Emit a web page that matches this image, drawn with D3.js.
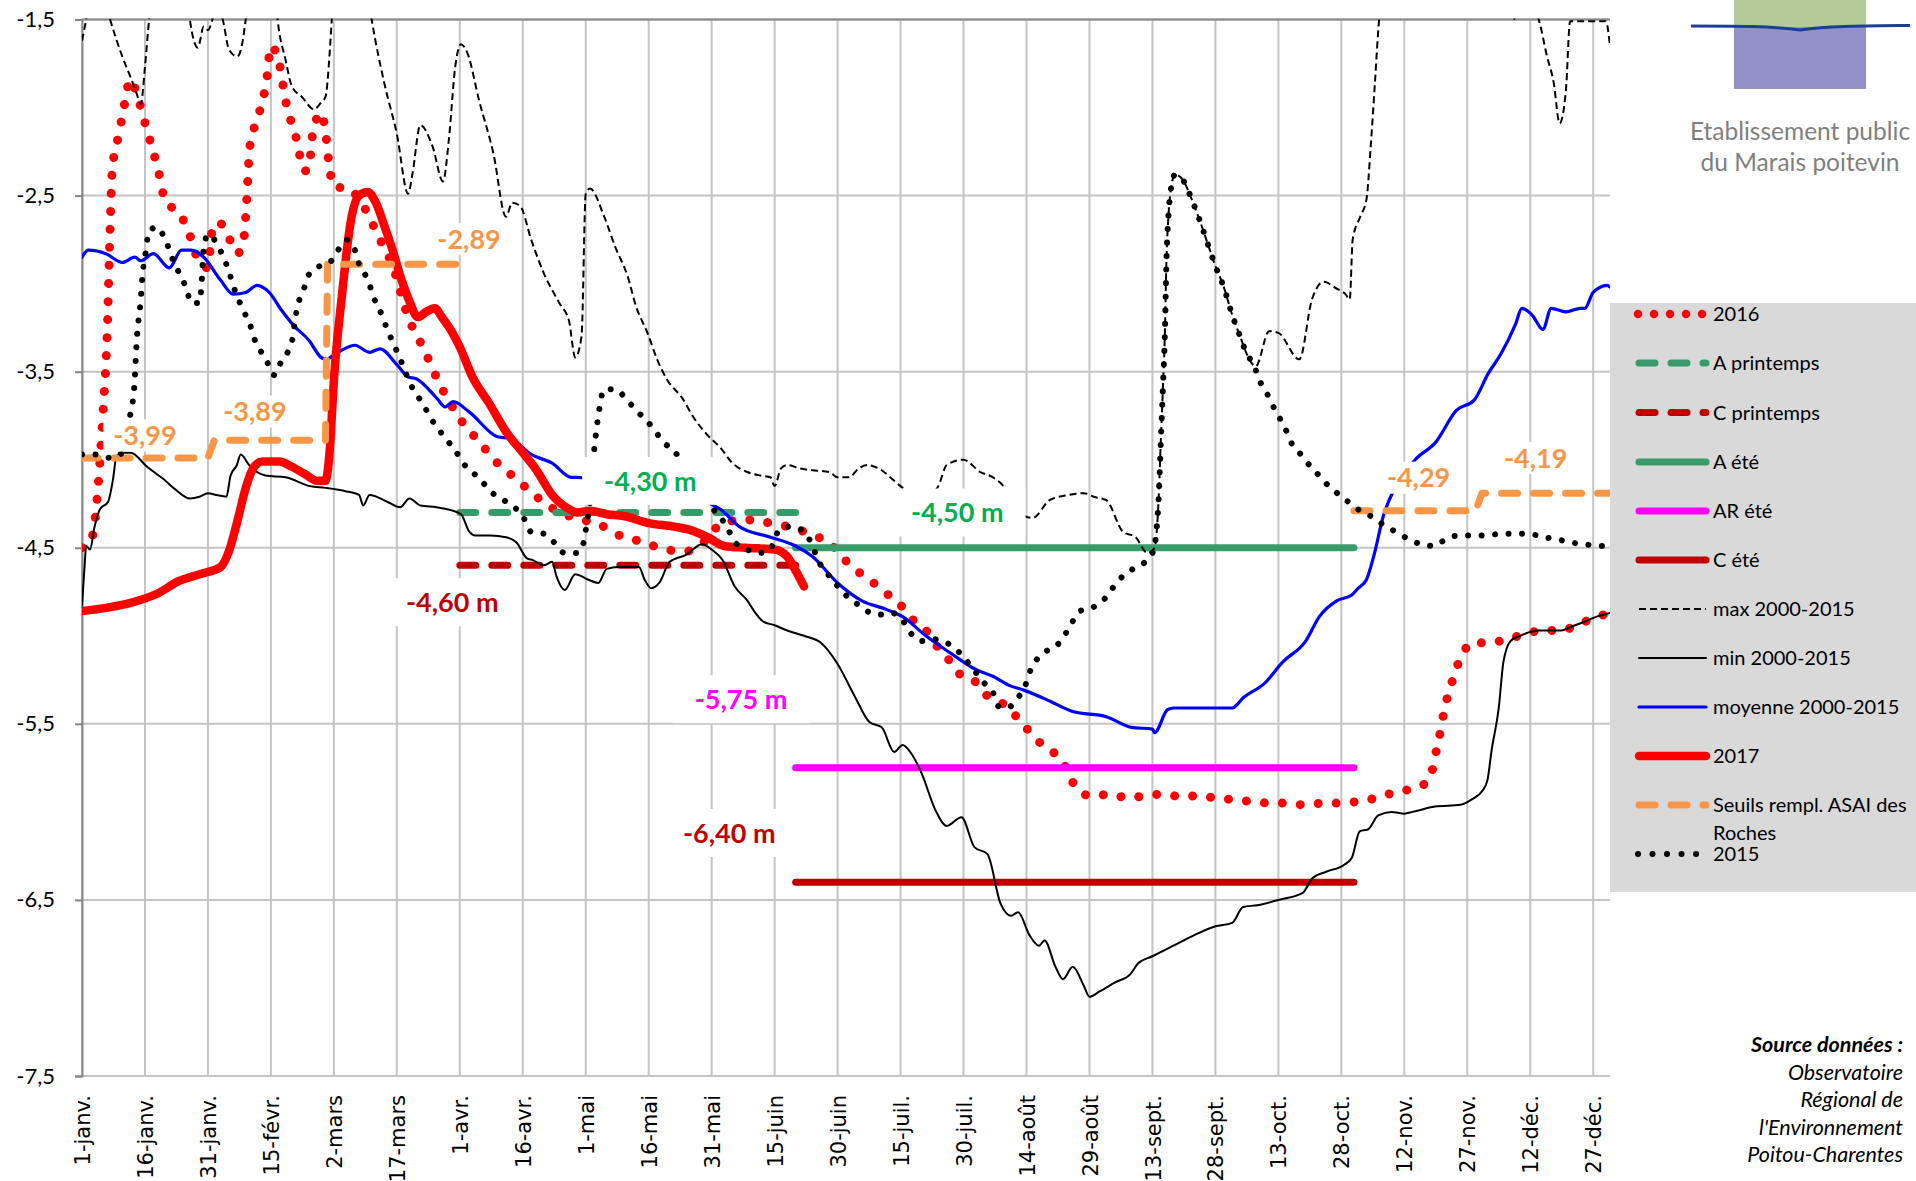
<!DOCTYPE html>
<html lang="fr">
<head>
<meta charset="utf-8">
<title>Niveaux de nappe - ASAI des Roches</title>
<script src="https://cdn.jsdelivr.net/npm/d3@7"></script>
<style>
  body { margin: 0; background: #fff; }
  svg { display: block; }
</style>
</head>
<body>
<div id="chart"></div>
<script>
// jour 0 = 1er janvier, niveaux en m

var dayTicks = [0, 15, 30, 45, 60, 75, 90, 105, 120, 135, 150, 165, 180, 195, 210, 225, 240, 255, 270, 285, 300, 315, 330, 345, 360];
var dayLabels = ["1-janv.", "16-janv.", "31-janv.", "15-févr.", "2-mars", "17-mars", "1-avr.", "16-avr.", "1-mai", "16-mai",
  "31-mai", "15-juin", "30-juin", "15-juil.", "30-juil.", "14-août", "29-août", "13-sept.", "28-sept.", "13-oct.",
  "28-oct.", "12-nov.", "27-nov.", "12-déc.", "27-déc."];
var levelTicks = [-7.5, -6.5, -5.5, -4.5, -3.5, -2.5, -1.5];

var serie2016 = [[0,-4.50],[2,-4.47],[3,-4.36],[4,-4.10],[5,-3.73],[6,-3.28],[6.7,-2.68],[7.2,-2.36],[8.7,-2.16],[9.6,-2.05],
  [11.6,-1.84],[13,-1.92],[15.5,-2.13],[18,-2.34],[20,-2.54],[22.8,-2.59],[25,-2.68],[28,-2.88],[30,-2.91],[31,-2.70],
  [32.5,-2.65],[35,-2.74],[37,-2.83],[38.5,-2.75],[39.2,-2.54],[40,-2.22],[42,-2.05],[44,-1.84],[45,-1.65],[47,-1.75],
  [48.5,-1.96],[51,-2.17],[53,-2.36],[54,-2.35],[55,-2.14],[57,-2.03],[58,-2.14],[59,-2.35],[60,-2.45],[63.6,-2.46],
  [66,-2.52],[71,-2.75],[74,-2.90],[77.7,-3.19],[81.6,-3.38],[85,-3.56],[89,-3.73],[92,-3.83],[94.8,-3.90],[97.7,-3.99],
  [101,-4.06],[104.4,-4.13],[107.8,-4.20],[111,-4.26],[115,-4.31],[119,-4.34],[123.5,-4.37],[127,-4.42],[131,-4.45],
  [135,-4.48],[139,-4.51],[143.7,-4.52],[147.7,-4.48],[150,-4.41],[153,-4.36],[157.5,-4.34],[161.6,-4.35],[166,-4.37],
  [170,-4.39],[174,-4.43],[178,-4.47],[181,-4.55],[184,-4.62],[187.6,-4.68],[191,-4.75],[194.5,-4.81],[197,-4.89],
  [200.8,-4.96],[203,-5.04],[206,-5.12],[208.6,-5.21],[212,-5.24],[214.6,-5.32],[218,-5.37],[221,-5.41],[223.5,-5.49],
  [226.5,-5.56],[229.5,-5.64],[233,-5.69],[235,-5.78],[237,-5.87],[240.5,-5.91],[245,-5.90],[249,-5.92],[253,-5.91],
  [257,-5.90],[261,-5.91],[265,-5.91],[270,-5.92],[274,-5.93],[278,-5.94],[283,-5.95],[287,-5.95],[291,-5.96],[296,-5.95],
  [300,-5.95],[304,-5.94],[308.5,-5.92],[312.5,-5.89],[316.5,-5.87],[320.5,-5.83],[322,-5.73],[322.8,-5.63],[323.8,-5.52],
  [324.6,-5.41],[325.8,-5.31],[327,-5.21],[328.6,-5.12],[331,-5.04],[335,-5.04],[339.4,-5.02],[343.7,-4.99],[348,-4.97],
  [352.4,-4.97],[356,-4.94],[360,-4.90],[364,-4.87]];

var serie2015 = [[0,-3.97],[3.4,-3.97],[6.7,-3.99],[9.6,-3.96],[11,-3.80],[11.6,-3.73],[12.5,-3.57],[13,-3.34],[14,-3.09],
  [14.5,-2.93],[15,-2.85],[16,-2.70],[18,-2.68],[19.8,-2.75],[21,-2.82],[22,-2.89],[23.7,-2.96],[25,-3.04],[26,-3.11],
  [28,-3.11],[28.4,-3.03],[29,-2.80],[30,-2.72],[32.5,-2.79],[33.7,-2.85],[35,-2.93],[36,-3.01],[38.6,-3.16],[40,-3.23],
  [41,-3.31],[42.5,-3.38],[44,-3.44],[45.8,-3.52],[47.5,-3.44],[50,-3.33],[51,-3.17],[51.8,-3.09],[53,-3.02],[54,-2.95],
  [56.7,-2.90],[59,-2.88],[61,-2.81],[63,-2.75],[65,-2.81],[66,-2.89],[67.7,-2.96],[69,-3.04],[70,-3.11],[71.5,-3.18],
  [72.7,-3.26],[74,-3.33],[75.3,-3.40],[76.7,-3.48],[78,-3.56],[79.5,-3.62],[81.6,-3.70],[83,-3.76],[85,-3.83],[87,-3.89],
  [89,-3.95],[90.8,-4.02],[93,-4.07],[95.5,-4.13],[97.8,-4.19],[100.5,-4.23],[103,-4.27],[105,-4.32],[107,-4.41],[110,-4.42],
  [112.5,-4.47],[115,-4.53],[118,-4.53],[119.5,-4.47],[120,-4.40],[121,-4.24],[122,-3.95],[123,-3.75],[124.4,-3.60],
  [127,-3.60],[129.8,-3.66],[132,-3.72],[134.6,-3.78],[136.6,-3.84],[138.5,-3.90],[141,-3.95],[144,-4.05],[147,-4.15],
  [150,-4.27],[152.5,-4.34],[154,-4.40],[155.6,-4.47],[158.4,-4.51],[161,-4.53],[164,-4.51],[165,-4.44],[167.8,-4.38],
  [170.6,-4.39],[173,-4.44],[174.5,-4.52],[176,-4.60],[178,-4.66],[182,-4.77],[184.7,-4.82],[187,-4.86],[190,-4.88],
  [193,-4.87],[195.7,-4.92],[197.6,-4.99],[200,-5.03],[203,-5.02],[206,-5.04],[208.8,-5.09],[211,-5.15],[213,-5.21],
  [215,-5.27],[217,-5.32],[218.3,-5.40],[220.5,-5.41],[222.6,-5.36],[224.6,-5.29],[225.7,-5.21],[227,-5.15],[229.5,-5.09],
  [232,-5.06],[234,-5.00],[235.7,-4.93],[237.7,-4.86],[240.7,-4.84],[243.6,-4.79],[245.5,-4.73],[248,-4.66],[250.4,-4.62],
  [253.3,-4.58],[255,-4.53],[255.8,-4.44],[256.5,-4.21],[257,-3.89],[257.5,-3.59],[258,-3.25],[258.3,-2.90],[258.8,-2.62],
  [259.3,-2.48],[260.4,-2.38],[262.5,-2.42],[264,-2.50],[265,-2.56],[266.4,-2.65],[268.4,-2.79],[270,-2.90],[272,-3.02],
  [273.9,-3.17],[276.2,-3.32],[277.3,-3.39],[279.3,-3.47],[280.3,-3.54],[282,-3.61],[283.4,-3.68],[285,-3.75],[286.6,-3.82],
  [288,-3.90],[290,-3.96],[292,-4.02],[294.3,-4.08],[296.6,-4.14],[299,-4.19],[301.7,-4.24],[304.5,-4.29],[307,-4.32],
  [310,-4.37],[313,-4.41],[316,-4.45],[319,-4.48],[322,-4.49],[325,-4.45],[328,-4.43],[331.4,-4.43],[334.7,-4.43],
  [338,-4.42],[341,-4.42],[344.6,-4.42],[348,-4.44],[351,-4.45],[354.6,-4.47],[358,-4.48],[361,-4.49],[364,-4.49]];

var serie2017 = [[0,-4.86],[6,-4.84],[12,-4.81],[18,-4.76],[23,-4.69],[28,-4.65],[33,-4.61],[35,-4.52],[37,-4.35],[39,-4.16],
  [41,-4.04],[43,-4.01],[47,-4.01],[50,-4.04],[53,-4.08],[56,-4.12],[58,-4.12],[59,-3.95],[60,-3.55],[62,-3.05],[64,-2.65],
  [66,-2.50],[68,-2.48],[70,-2.54],[72,-2.67],[74,-2.81],[76,-2.97],[78,-3.10],[80,-3.19],[82,-3.16],[84,-3.14],[86,-3.20],
  [88,-3.27],[90,-3.36],[93,-3.53],[97,-3.68],[101,-3.84],[105,-3.96],[108,-4.05],[112,-4.20],[116,-4.28],[118,-4.30],
  [121,-4.29],[125,-4.31],[129,-4.32],[135,-4.36],[141,-4.38],[145,-4.40],[149,-4.44],[153,-4.49],[158,-4.50],[165,-4.51],
  [168,-4.55],[170,-4.63],[172,-4.72]];

var moyenne = [[0,-2.85],[1.5,-2.81],[5.7,-2.83],[9.6,-2.88],[12.6,-2.85],[14,-2.87],[17,-2.83],[20.8,-2.91],[23.7,-2.81],
  [26,-2.81],[29,-2.85],[33,-2.98],[36,-3.06],[39,-3.05],[41.7,-3.01],[44.6,-3.05],[47.5,-3.15],[50.5,-3.24],[54,-3.32],
  [57,-3.42],[58,-3.43],[61,-3.39],[65,-3.35],[68.5,-3.39],[71,-3.37],[75,-3.46],[77.7,-3.53],[79.6,-3.54],[84.5,-3.65],
  [86.5,-3.70],[88.4,-3.67],[92.3,-3.73],[99,-3.87],[102,-3.88],[107,-3.97],[112,-4.02],[116.6,-4.10],[118,-4.10],
  [125,-4.13],[135,-4.18],[142,-4.21],[148.7,-4.24],[152,-4.28],[156.6,-4.38],[164,-4.44],[170,-4.49],[174,-4.55],
  [180,-4.70],[185.7,-4.80],[191.6,-4.85],[195.4,-4.89],[201,-5.00],[207,-5.10],[212.8,-5.19],[217,-5.23],[220.7,-5.28],
  [224.5,-5.31],[230.5,-5.37],[236,-5.43],[244,-5.46],[250,-5.52],[255,-5.53],[255.5,-5.55],[258.6,-5.42],[260,-5.41],
  [269,-5.41],[274,-5.41],[276.7,-5.35],[281.7,-5.27],[286,-5.15],[291.5,-5.03],[294.8,-4.89],[299,-4.80],[302.4,-4.77],
  [304,-4.73],[306,-4.68],[307.8,-4.54],[310,-4.32],[313,-4.15],[317.6,-4.00],[322.5,-3.90],[327.4,-3.72],[331.7,-3.66],
  [335,-3.51],[338,-3.40],[341.5,-3.23],[343,-3.14],[345.5,-3.18],[348,-3.26],[350,-3.14],[353.5,-3.16],[357,-3.14],
  [358,-3.14],[360,-3.05],[363.3,-3.01],[364,-3.02]];

var maximum = [[0,-1.62],[1,-1.50],[2,-1.35],[5,-1.35],[6.7,-1.50],[9.6,-1.71],[11.6,-1.83],[13,-1.92],[14,-1.98],[15,-1.77],
  [16,-1.50],[17,-1.35],[25,-1.35],[25.7,-1.50],[27.6,-1.66],[29,-1.54],[30,-1.56],[32,-1.45],[33.5,-1.50],[35,-1.67],
  [37,-1.71],[38.3,-1.62],[39,-1.50],[40,-1.35],[46,-1.35],[46.6,-1.50],[48.5,-1.73],[50,-1.88],[52.4,-1.94],[55.3,-2.01],
  [57,-1.97],[58,-1.94],[59,-1.69],[59.5,-1.50],[60,-1.35],[68,-1.35],[69,-1.50],[72,-1.86],[75,-2.15],[77.7,-2.49],
  [78.7,-2.38],[80.6,-2.10],[83.5,-2.22],[86,-2.42],[87.4,-2.18],[88.9,-1.77],[90.3,-1.64],[91.8,-1.69],[94.6,-1.96],
  [98,-2.26],[101,-2.62],[102.5,-2.54],[104.4,-2.56],[107,-2.75],[110,-2.94],[113.7,-3.11],[116,-3.21],[117.5,-3.42],
  [119,-3.30],[120,-2.49],[121,-2.46],[124.4,-2.62],[127,-2.79],[130,-2.96],[132,-3.13],[134.7,-3.28],[137,-3.43],
  [139.5,-3.55],[143,-3.65],[145.7,-3.76],[149,-3.86],[152,-3.93],[155,-4.02],[158.5,-4.07],[161.6,-4.09],[164,-4.10],
  [165,-4.15],[166.5,-4.05],[168,-4.03],[171,-4.05],[174,-4.06],[178,-4.07],[180,-4.10],[182.7,-4.10],[185,-4.05],
  [187,-4.03],[190.5,-4.06],[193,-4.11],[195,-4.15],[199,-4.22],[202,-4.20],[204,-4.15],[206,-4.03],[210,-4.00],
  [214,-4.07],[217,-4.10],[219.5,-4.15],[223,-4.30],[226.5,-4.33],[230.5,-4.23],[235,-4.20],[238.7,-4.19],[241,-4.21],
  [244,-4.23],[248,-4.41],[251,-4.44],[253.8,-4.53],[255.5,-4.50],[256.5,-4.21],[257,-3.89],[257.5,-3.59],[258,-3.25],
  [258.3,-2.90],[258.8,-2.62],[259.3,-2.48],[260.4,-2.38],[262.5,-2.42],[264,-2.50],[265,-2.56],[266.4,-2.65],[268.4,-2.79],
  [270,-2.90],[272,-3.02],[273.9,-3.17],[276.2,-3.32],[277.3,-3.39],[279.6,-3.47],[282.8,-3.27],[285,-3.28],[290,-3.43],
  [293,-3.09],[295.8,-2.99],[299,-3.03],[301,-3.06],[302,-3.09],[302.7,-2.75],[304.5,-2.62],[306,-2.52],[307,-2.22],
  [308,-1.86],[309,-1.50],[310,-1.35],[340,-1.35],[341,-1.50],[342,-1.45],[346,-1.45],[347,-1.50],[349,-1.71],[350.6,-1.86],
  [352,-2.09],[353.5,-1.90],[354.5,-1.51],[363,-1.51],[364,-1.65]];

var minimum = [[0,-4.83],[0.6,-4.61],[1,-4.49],[1.9,-4.51],[3,-4.38],[4.3,-4.28],[6.2,-4.24],[7.4,-4.11],[8.2,-3.98],
  [9.6,-3.96],[11.6,-3.96],[15.5,-4.04],[19.4,-4.11],[22.3,-4.17],[25.7,-4.22],[28,-4.21],[30,-4.19],[32,-4.20],[34.4,-4.21],
  [35.4,-4.09],[36.9,-4.03],[37.8,-3.97],[39.8,-4.03],[41.7,-4.07],[43.7,-4.09],[48.5,-4.10],[54.3,-4.15],[58,-4.16],
  [63,-4.18],[66,-4.20],[67,-4.26],[68.5,-4.20],[72.8,-4.24],[75.8,-4.27],[78,-4.22],[80.6,-4.26],[84.5,-4.27],[88.4,-4.29],
  [90.3,-4.31],[92.3,-4.41],[93.7,-4.43],[97.2,-4.43],[101,-4.44],[103.5,-4.47],[106,-4.56],[107.4,-4.57],[110,-4.60],
  [112,-4.58],[113,-4.66],[115,-4.74],[117.5,-4.65],[120.5,-4.68],[123,-4.70],[125,-4.62],[127.8,-4.61],[130.7,-4.61],
  [132.7,-4.61],[134,-4.68],[135.6,-4.73],[137.5,-4.70],[140,-4.58],[143.9,-4.54],[147.7,-4.48],[150,-4.51],[152.6,-4.57],
  [155.5,-4.72],[158.5,-4.80],[160.4,-4.87],[162.3,-4.92],[165,-4.94],[168,-4.97],[172,-5.00],[176,-5.04],[180,-5.16],
  [184,-5.34],[187.6,-5.49],[190.5,-5.52],[193.5,-5.66],[195.5,-5.62],[197.3,-5.66],[200,-5.78],[203.3,-5.99],[206,-6.08],
  [209.5,-6.03],[212.6,-6.20],[215.7,-6.24],[218.8,-6.52],[221.3,-6.59],[223,-6.57],[225.7,-6.70],[228,-6.76],[229.3,-6.73],
  [231.9,-6.88],[233.7,-6.95],[236,-6.88],[238.7,-6.99],[240,-7.05],[242.4,-7.02],[246,-6.97],[249.8,-6.92],[251.6,-6.86],
  [255,-6.82],[260,-6.76],[265,-6.70],[270,-6.65],[274,-6.63],[276.6,-6.54],[280,-6.53],[285,-6.50],[290.8,-6.46],
  [293,-6.38],[296.4,-6.34],[300.7,-6.30],[302.5,-6.26],[304.4,-6.11],[306.3,-6.10],[308.8,-6.02],[312,-6.00],[315,-6.01],
  [317,-6.00],[322.3,-5.97],[328.4,-5.96],[331,-5.93],[333.6,-5.88],[334.8,-5.82],[335.8,-5.65],[337.5,-5.41],[338.6,-5.15],
  [340.3,-5.03],[342.6,-5.00],[347,-4.97],[352.4,-4.97],[354.6,-4.95],[357.9,-4.92],[361,-4.89],[364,-4.87]];

// seuils de remplissage ASAI des Roches (deux périodes)
var seuilsHiver = [[0,-3.99],[30,-3.99],[31.5,-3.89],[58,-3.89],[58.5,-2.89],[89,-2.89]];
var seuilsAutomne = [[303,-4.29],[332,-4.29],[333.5,-4.19],[364,-4.19]];

// seuils de gestion : nom, valeur, jour début, jour fin
var thresholdNames = ["A printemps", "C printemps", "A été", "AR été", "C été"];
var thresholdValues = [-4.30, -4.60, -4.50, -5.75, -6.40];
var thresholdStart = [90, 90, 170, 170, 170];
var thresholdEnd = [170, 170, 303, 303, 303];

// étiquettes de valeur
var labelTexts = ["-3,99", "-3,89", "-2,89", "-4,29", "-4,19", "-4,30 m", "-4,50 m", "-4,60 m", "-5,75 m", "-6,40 m"];
var labelDays = [15, 41.2, 92.2, 318.4, 346.3, 135.4, 208.5, 88.2, 157, 154.2];
var labelValues = [-3.863, -3.727, -2.746, -4.102, -3.99, -4.12, -4.30, -4.81, -5.36, -6.12];
var labelKinds = ["Seuils", "Seuils", "Seuils", "Seuils", "Seuils", "A printemps", "A été", "C printemps", "AR été", "C été"];

var legendNames = ["2016", "A printemps", "C printemps", "A été", "AR été", "C été", "max 2000-2015",
  "min 2000-2015", "moyenne 2000-2015", "2017", "Seuils rempl. ASAI des|Roches", "2015"];

var sourceLines = ["Source données :", "Observatoire", "Régional de", "l'Environnement", "Poitou-Charentes"];

// ---- styles ----
var green = "#389b69", darkRed = "#c00000", orange = "#f79646";
var styles = {
  "2016": {color: "#ff0000", width: 9, dash: "0.01 18"},
  "A printemps": {color: green, width: 7, dash: "16 16"},
  "C printemps": {color: darkRed, width: 7, dash: "16 16"},
  "A été": {color: green, width: 7},
  "AR été": {color: "#ff00ff", width: 7},
  "C été": {color: darkRed, width: 7},
  "max 2000-2015": {color: "#000", width: 2, dash: "7 4", cap: "butt"},
  "min 2000-2015": {color: "#000", width: 2},
  "moyenne 2000-2015": {color: "#0000ff", width: 3.2},
  "2017": {color: "#ff0000", width: 8.5},
  "Seuils rempl. ASAI des|Roches": {color: orange, width: 7, dash: "16 16"},
  "2015": {color: "#000", width: 6, dash: "0.01 13.5"}
};
var labelColors = {"Seuils": orange, "A printemps": "#00b050", "A été": "#00b050", "C printemps": darkRed,
  "AR été": "#ff00ff", "C été": darkRed};

var width = 1916, height = 1181;
var plot = {left: 82, right: 1610, top: 19.5, bottom: 1076};

var x = d3.scaleLinear().domain([0, 364]).range([plot.left, plot.right]);
var y = d3.scaleLinear().domain([-7.5, -1.5]).range([plot.bottom, plot.top]);

var line = d3.line()
  .x(function(d) { return x(d[0]); })
  .y(function(d) { return y(d[1]); })
  .curve(d3.curveMonotoneX);

var straight = d3.line()
  .x(function(d) { return x(d[0]); })
  .y(function(d) { return y(d[1]); });

var svg = d3.select("#chart").append("svg")
  .attr("width", width)
  .attr("height", height)
  .style("font-family", "Lato, 'Open Sans', sans-serif");

svg.append("defs").append("clipPath").attr("id", "plotClip")
  .append("rect")
  .attr("x", plot.left).attr("y", plot.top - 1)
  .attr("width", plot.right - plot.left).attr("height", plot.bottom - plot.top + 1);

// gridlines
var grid = svg.append("g");
grid.selectAll(".vgrid").data(dayTicks).enter().append("line")
  .attr("x1", function(d) { return x(d); }).attr("x2", function(d) { return x(d); })
  .attr("y1", plot.top).attr("y2", plot.bottom)
  .attr("stroke", "#c4c4c4").attr("stroke-width", 2);
grid.selectAll(".hgrid").data(levelTicks).enter().append("line")
  .attr("x1", plot.left).attr("x2", plot.right)
  .attr("y1", function(d) { return y(d); }).attr("y2", function(d) { return y(d); })
  .attr("stroke", "#c4c4c4").attr("stroke-width", 2);

// top border
svg.append("line").attr("x1", plot.left).attr("x2", plot.right).attr("y1", y(-1.5)).attr("y2", y(-1.5))
  .attr("stroke", "#878787").attr("stroke-width", 2);

// y axis
var yAxis = svg.append("g")
  .attr("transform", "translate(" + plot.left + ",0)")
  .call(d3.axisLeft(y).tickValues(levelTicks).tickSize(7).tickPadding(20)
    .tickFormat(function(d) { return d.toFixed(1).replace(".", ","); }));
yAxis.select(".domain").attr("stroke", "#878787").attr("stroke-width", 2);
yAxis.selectAll(".tick line").attr("stroke", "#878787").attr("stroke-width", 2);
yAxis.selectAll(".tick text").attr("font-size", 22).attr("fill", "#000")
  .style("font-family", "Lato, sans-serif");

// x axis
var xAxis = svg.append("g")
  .attr("transform", "translate(0," + plot.bottom + ")")
  .call(d3.axisBottom(x).tickValues(dayTicks).tickSize(0)
    .tickFormat(function(d, i) { return dayLabels[i]; }));
xAxis.select(".domain").remove();
xAxis.selectAll(".tick text")
  .attr("transform", "rotate(-90)")
  .attr("x", -19).attr("y", 0).attr("dy", "0.36em")
  .attr("text-anchor", "end")
  .attr("font-size", 21).attr("fill", "#000")
  .style("font-family", "'DejaVu Sans', sans-serif");

// series
var series = svg.append("g").attr("clip-path", "url(#plotClip)");

function styled(sel, name) {
  var s = styles[name];
  sel.attr("fill", "none")
    .attr("stroke", s.color)
    .attr("stroke-width", s.width)
    .attr("stroke-linecap", s.cap || "round")
    .attr("stroke-linejoin", "round");
  if (s.dash) sel.attr("stroke-dasharray", s.dash);
  return sel;
}

styled(series.append("path").datum(serie2016).attr("d", line), "2016");

thresholdNames.forEach(function(name, i) {
  var pts = [[thresholdStart[i], thresholdValues[i]], [thresholdEnd[i], thresholdValues[i]]];
  styled(series.append("path").datum(pts).attr("d", straight), name);
});

styled(series.append("path").datum(maximum).attr("d", line), "max 2000-2015");
styled(series.append("path").datum(minimum).attr("d", line), "min 2000-2015");
styled(series.append("path").datum(moyenne).attr("d", line), "moyenne 2000-2015");
styled(series.append("path").datum(serie2017).attr("d", line), "2017");
styled(series.append("path").datum(seuilsHiver).attr("d", straight), "Seuils rempl. ASAI des|Roches");
styled(series.append("path").datum(seuilsAutomne).attr("d", straight), "Seuils rempl. ASAI des|Roches");
styled(series.append("path").datum(serie2015).attr("d", line), "2015");

// data labels with white boxes
var labels = svg.append("g");
labelTexts.forEach(function(t, i) {
  var g = labels.append("g");
  var box = g.append("rect").attr("fill", "#fff");
  var txt = g.append("text")
    .attr("x", x(labelDays[i])).attr("y", y(labelValues[i]))
    .attr("dy", "0.36em")
    .attr("text-anchor", "middle")
    .attr("font-size", 27).attr("font-weight", 700)
    .attr("fill", labelColors[labelKinds[i]])
    .text(t);
  var bb = txt.node().getBBox();
  var big = t.indexOf("m") > 0;
  var px = big ? 22 : 10, py = big ? 24 : 16;
  box.attr("x", bb.x - px).attr("y", y(labelValues[i]) - py)
    .attr("width", bb.width + 2 * px).attr("height", 2 * py);
});

// legend
var legend = svg.append("g");
legend.append("rect").attr("x", plot.right).attr("y", 303).attr("width", width - plot.right).attr("height", 589)
  .attr("fill", "#d9d9d9");
var legendY = [314, 363, 412.5, 462, 511, 560, 609, 658, 707, 756, 805, 854];
legendNames.forEach(function(name, i) {
  var s = styles[name];
  var ly = legendY[i];
  var x0 = 1639, x1 = 1706;
  if (name === "2016") { x0 = 1638; x1 = 1703; s = {color: "#ff0000", width: 8.5, dash: "0.01 16"}; }
  if (name === "2015") { x0 = 1638; x1 = 1697; s = {color: "#000", width: 6, dash: "0.01 14.5"}; }
  var l = legend.append("line").attr("x1", x0).attr("x2", x1).attr("y1", ly).attr("y2", ly)
    .attr("stroke", s.color).attr("stroke-width", s.width)
    .attr("stroke-linecap", s.cap || "round");
  if (s.dash) l.attr("stroke-dasharray", s.dash);
  name.split("|").forEach(function(part, k) {
    legend.append("text")
      .attr("x", 1713).attr("y", ly + k * 28).attr("dy", "0.36em")
      .attr("font-size", 20).attr("fill", "#000")
      .text(part);
  });
});

// logo
var logo = svg.append("g");
logo.append("rect").attr("x", 1734).attr("y", 0).attr("width", 132).attr("height", 27).attr("fill", "#b3cb98");
logo.append("rect").attr("x", 1734).attr("y", 27).attr("width", 132).attr("height", 62).attr("fill", "#9292c8");
logo.append("path")
  .attr("d", "M1691,26 C1740,26 1770,26 1800,30 C1830,26 1860,26 1910,25.5")
  .attr("fill", "none").attr("stroke", "#1d3f93").attr("stroke-width", 3);
logo.append("text").attr("x", 1800).attr("y", 140).attr("text-anchor", "middle")
  .attr("font-size", 24.5).attr("fill", "#7f7f7f").text("Etablissement public");
logo.append("text").attr("x", 1800).attr("y", 171).attr("text-anchor", "middle")
  .attr("font-size", 24.5).attr("fill", "#7f7f7f").text("du Marais poitevin");

// source
var source = svg.append("g");
sourceLines.forEach(function(t, i) {
  source.append("text")
    .attr("x", 1903).attr("y", 1052 + i * 27.5)
    .attr("text-anchor", "end")
    .attr("font-size", 21.5)
    .attr("font-style", "italic")
    .attr("font-weight", i === 0 ? 700 : 400)
    .attr("fill", "#000")
    .text(t);
});
</script>
</body>
</html>
